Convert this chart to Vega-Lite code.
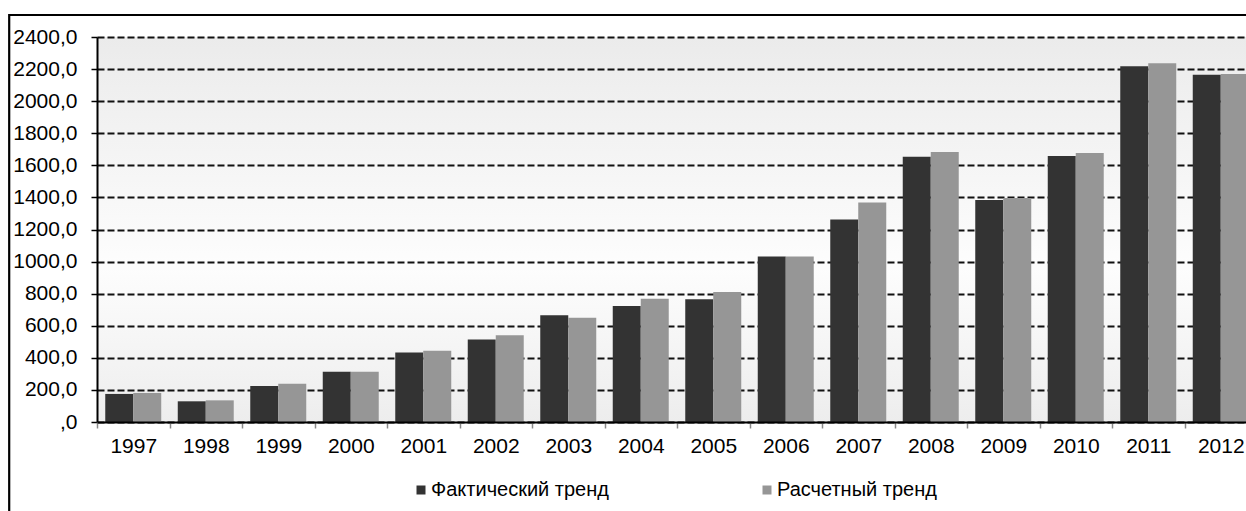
{
  "$schema": "https://vega.github.io/schema/vega-lite/v6.json",
  "width": 1160,
  "height": 385,
  "padding": {"left": 8, "top": 13, "right": 0, "bottom": 0},
  "background": "#ffffff",
  "view": {
    "stroke": null,
    "fill": {
      "gradient": "linear",
      "x1": 0, "y1": 0, "x2": 0, "y2": 1,
      "stops": [
        {"offset": 0, "color": "#ebebeb"},
        {"offset": 0.6, "color": "#fdfdfd"},
        {"offset": 1, "color": "#ededed"}
      ]
    }
  },
  "config": {
    "font": "Liberation Sans",
    "axis": {"labelFont": "Liberation Sans", "labelColor": "#000000", "labelFontSize": 21, "title": null},
    "legend": {"labelFont": "Liberation Sans", "labelColor": "#000000", "labelFontSize": 20}
  },
  "layer": [
    {
      "data": {"values": [{"part": "frame"}]},
      "mark": {"type": "rect", "filled": false, "stroke": "#000000", "strokeWidth": 2.2},
      "encoding": {
        "x": {"datum": -1.211, "type": "quantitative", "scale": {"domain": [0, 16], "nice": false, "zero": false}, "axis": null},
        "x2": {"datum": 15.89},
        "y": {"datum": 2537.1, "type": "quantitative", "scale": {"domain": [0, 2400], "nice": false, "zero": false}, "axis": null},
        "y2": {"datum": -579.7}
      }
    },
    {
      "data": {
        "values": [
          {"year": "1997", "series": "Фактический тренд", "value": 175},
          {"year": "1997", "series": "Расчетный тренд", "value": 181},
          {"year": "1998", "series": "Фактический тренд", "value": 129},
          {"year": "1998", "series": "Расчетный тренд", "value": 135},
          {"year": "1999", "series": "Фактический тренд", "value": 224},
          {"year": "1999", "series": "Расчетный тренд", "value": 239},
          {"year": "2000", "series": "Фактический тренд", "value": 314},
          {"year": "2000", "series": "Расчетный тренд", "value": 314},
          {"year": "2001", "series": "Фактический тренд", "value": 433},
          {"year": "2001", "series": "Расчетный тренд", "value": 444},
          {"year": "2002", "series": "Фактический тренд", "value": 514},
          {"year": "2002", "series": "Расчетный тренд", "value": 541},
          {"year": "2003", "series": "Фактический тренд", "value": 665},
          {"year": "2003", "series": "Расчетный тренд", "value": 650},
          {"year": "2004", "series": "Фактический тренд", "value": 723},
          {"year": "2004", "series": "Расчетный тренд", "value": 769},
          {"year": "2005", "series": "Фактический тренд", "value": 765},
          {"year": "2005", "series": "Расчетный тренд", "value": 811},
          {"year": "2006", "series": "Фактический тренд", "value": 1031},
          {"year": "2006", "series": "Расчетный тренд", "value": 1031},
          {"year": "2007", "series": "Фактический тренд", "value": 1262},
          {"year": "2007", "series": "Расчетный тренд", "value": 1368},
          {"year": "2008", "series": "Фактический тренд", "value": 1654},
          {"year": "2008", "series": "Расчетный тренд", "value": 1683},
          {"year": "2009", "series": "Фактический тренд", "value": 1384},
          {"year": "2009", "series": "Расчетный тренд", "value": 1396},
          {"year": "2010", "series": "Фактический тренд", "value": 1658},
          {"year": "2010", "series": "Расчетный тренд", "value": 1677},
          {"year": "2011", "series": "Фактический тренд", "value": 2217},
          {"year": "2011", "series": "Расчетный тренд", "value": 2237},
          {"year": "2012", "series": "Фактический тренд", "value": 2165},
          {"year": "2012", "series": "Расчетный тренд", "value": 2169}
        ]
      },
      "mark": {"type": "bar"},
      "encoding": {
        "x": {
          "field": "year", "type": "ordinal",
          "scale": {"paddingInner": 0, "paddingOuter": 0},
          "axis": {
            "tickBand": "extent", "labelAngle": 0, "tickColor": "#888888", "tickSize": 6, "tickWidth": 1.5,
            "domainColor": "#000000", "domainWidth": 2, "labelPadding": 7, "grid": false, "zindex": 1
          }
        },
        "xOffset": {
          "field": "series", "type": "nominal",
          "sort": ["Фактический тренд", "Расчетный тренд"],
          "scale": {"paddingInner": 0, "paddingOuter": 0.295}
        },
        "y": {
          "field": "value", "type": "quantitative",
          "scale": {"domain": [0, 2400], "nice": false, "zero": true},
          "axis": {
            "values": [0, 200, 400, 600, 800, 1000, 1200, 1400, 1600, 1800, 2000, 2200, 2400],
            "labelExpr": "datum.value == 0 ? ',0' : replace(format(datum.value, '.1f'), '.', ',')",
            "grid": true, "gridColor": "#111111", "gridDash": [7, 3], "gridWidth": 2.2,
            "domainColor": "#000000", "domainWidth": 2, "tickColor": "#000000", "tickSize": 6, "tickWidth": 1.5,
            "labelPadding": 14, "zindex": 0
          }
        },
        "color": {
          "field": "series", "type": "nominal",
          "scale": {"domain": ["Фактический тренд", "Расчетный тренд"], "range": ["#333333", "#969696"]},
          "legend": {
            "title": null, "orient": "none", "legendX": 314, "legendY": 443, "direction": "horizontal",
            "symbolType": "square", "symbolSize": 81, "symbolStrokeWidth": 0, "labelOffset": 0,
            "labelLimit": 400, "columnPadding": 148, "padding": 0
          }
        }
      }
    }
  ],
  "resolve": {"scale": {"x": "independent", "y": "independent"}, "axis": {"x": "independent", "y": "independent"}}
}
